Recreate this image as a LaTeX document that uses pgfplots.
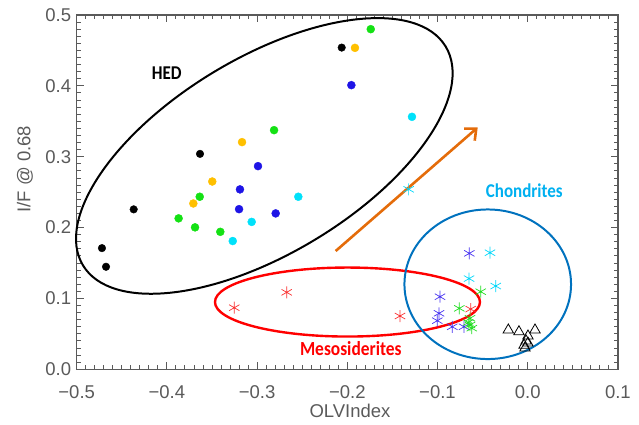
\documentclass[border=0pt]{standalone}
\usepackage{fontspec}
\usepackage{graphicx}
\setmainfont{Liberation Sans}
\newfontfamily\carlito{Carlito}
\usepackage{pgfplots}
\pgfplotsset{compat=1.18}
\usetikzlibrary{arrows.meta}
\definecolor{axgray}{RGB}{90,90,90}
\definecolor{dgold}{RGB}{255,192,0}
\definecolor{dgreen}{RGB}{20,225,20}
\definecolor{dblue}{RGB}{30,20,230}
\definecolor{dcyan}{RGB}{0,225,250}
\definecolor{sblue}{RGB}{70,50,240}
\definecolor{scyan}{RGB}{0,215,250}
\definecolor{sgreen}{RGB}{30,220,30}
\definecolor{sred}{RGB}{250,50,50}
\definecolor{chondblue}{RGB}{0,114,190}
\definecolor{chondtext}{RGB}{0,176,240}
\definecolor{arroworange}{RGB}{228,108,10}
\begin{document}
\begin{tikzpicture}
\begin{axis}[
  scale only axis,
  width=541.2bp, height=354.3bp,
  xmin=-0.5, xmax=0.1, ymin=0, ymax=0.5,
  xtick={-0.5,-0.4,-0.3,-0.2,-0.1,0,0.1},
  xticklabels={−0.5,−0.4,−0.3,−0.2,−0.1,0.0,0.1},
  ytick={0,0.1,0.2,0.3,0.4,0.5},
  yticklabels={0.0,0.1,0.2,0.3,0.4,0.5},
  minor x tick num=9, minor y tick num=9,
  tick align=inside,
  major tick length=7bp, minor tick length=4bp,
  axis line style={axgray, line width=1.2pt},
  every tick/.style={axgray, line width=0.9pt},
  every minor tick/.style={axgray, line width=0.9pt},
  tick label style={font=\fontsize{18.5bp}{22bp}\selectfont, text=axgray},
  xticklabel style={yshift=-13bp},
  yticklabel style={xshift=-2bp},
  xlabel={OLVIndex},
  ylabel={I/F @ 0.68},
  every axis x label/.style={at={(axis description cs:0.505,-0.118)}, anchor=center, font=\fontsize{18.5bp}{22bp}\selectfont, text=axgray},
  every axis y label/.style={at={(axis description cs:-0.0955,0.565)}, anchor=center, rotate=90, font=\fontsize{18.5bp}{22bp}\selectfont, text=axgray},
  clip=false,
]
% ellipses and arrow (annotations)
\draw[black, line width=2pt, rotate around={31.1:(axis cs:-0.292,0.3011)}]
  (axis cs:-0.292,0.3011) ellipse [x radius=211.8bp, y radius=97.9bp];
\draw[red, line width=2.4pt] (axis cs:-0.1998,0.0949) ellipse [x radius=132.5bp, y radius=34.5bp];
\draw[chondblue, line width=2pt] (axis cs:-0.0443,0.120) ellipse [x radius=83.3bp, y radius=74.8bp];
\draw[arroworange, line width=2.6pt, -{Straight Barb[length=9bp,width=16bp,line width=2.6pt]}]
  (axis cs:-0.2129,0.1669) -- (axis cs:-0.0554,0.3413);

% HED filled circles
\addplot[only marks, mark=*, mark size=3.8bp, black, mark options={fill=black}] coordinates {
(-0.472,0.171) (-0.4675,0.1447) (-0.4368,0.2257) (-0.3633,0.304) (-0.2062,0.454)};
\addplot[only marks, mark=*, mark size=4bp, dgold, mark options={fill=dgold}] coordinates {
(-0.1915,0.4536) (-0.3167,0.3206) (-0.3497,0.265) (-0.3707,0.234)};
\addplot[only marks, mark=*, mark size=4bp, dgreen, mark options={fill=dgreen}] coordinates {
(-0.174,0.48) (-0.2812,0.3375) (-0.3636,0.2435) (-0.387,0.213) (-0.3688,0.2003) (-0.3408,0.194)};
\addplot[only marks, mark=*, mark size=4bp, dblue, mark options={fill=dblue}] coordinates {
(-0.1955,0.401) (-0.299,0.2867) (-0.319,0.2539) (-0.320,0.226) (-0.2794,0.220)};
\addplot[only marks, mark=*, mark size=4bp, dcyan, mark options={fill=dcyan}] coordinates {
(-0.1283,0.3563) (-0.2543,0.2435) (-0.306,0.208) (-0.327,0.181)};

% asterisks
\addplot[only marks, mark=asterisk, mark size=6bp, sred, line width=0.7pt] coordinates {
(-0.3253,0.0869) (-0.2672,0.1086) (-0.1416,0.0752) (-0.0632,0.085)};
\addplot[only marks, mark=asterisk, mark size=6bp, sblue, line width=0.7pt] coordinates {
(-0.0647,0.1636) (-0.0972,0.1024) (-0.0983,0.079) (-0.1002,0.0686) (-0.0836,0.060) (-0.0706,0.060)};
\addplot[only marks, mark=asterisk, mark size=6bp, scyan, line width=0.7pt] coordinates {
(-0.132,0.254) (-0.0418,0.1645) (-0.065,0.128) (-0.0355,0.1175)};
\addplot[only marks, mark=asterisk, mark size=6bp, sgreen, line width=0.7pt] coordinates {
(-0.0521,0.1095) (-0.0758,0.086) (-0.064,0.072) (-0.064,0.0625) (-0.062,0.058) (-0.066,0.066)};

% triangles
\addplot[only marks, mark=triangle, mark size=6bp, black, line width=0.8pt] coordinates {
(-0.0215,0.0555) (-0.0097,0.053) (0.0081,0.0555) (0.0003,0.047) (-0.0018,0.040) (-0.004,0.034) (0.0003,0.037) (-0.003,0.030)};

% labels
\node[font=\carlito\bfseries\fontsize{17bp}{20bp}\selectfont, text=black] at (axis cs:-0.4002,0.4186) {\scalebox{1}[1.15]{HED}};
\node[font=\carlito\bfseries\fontsize{17bp}{20bp}\selectfont, text=chondtext] at (axis cs:-0.0038,0.2515) {\scalebox{1}[1.15]{Chondrites}};
\node[font=\carlito\bfseries\fontsize{17.4bp}{20bp}\selectfont, text=red] at (axis cs:-0.1961,0.0293) {\scalebox{1}[1.15]{Mesosiderites}};
\end{axis}
\pgfresetboundingbox
\path ([shift={(-76.7bp,-55.7bp)}]current axis.south west) rectangle ([shift={(21.1bp,15bp)}]current axis.north east);
\end{tikzpicture}
\end{document}
